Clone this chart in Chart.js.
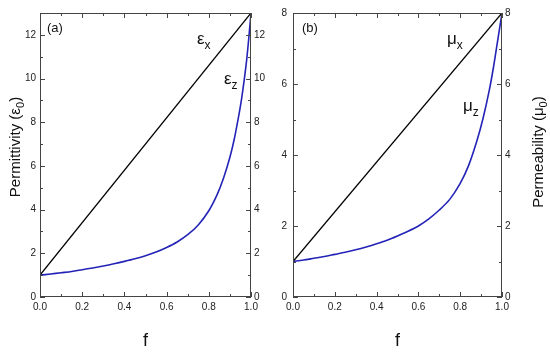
<!DOCTYPE html>
<html>
<head>
<meta charset="utf-8">
<script src="https://cdn.jsdelivr.net/npm/chart.js@4.4.1/dist/chart.umd.min.js"></script>
<style>
  html, body { margin: 0; padding: 0; background: #fff; }
  #wrap { position: relative; width: 550px; height: 354px; overflow: hidden; }
  #chartA { position: absolute; left: 0; top: 0; }
  #chartB { position: absolute; left: 265px; top: 0; }
</style>
</head>
<body>
<div id="wrap">
  <canvas id="chartA" width="275" height="354"></canvas>
  <canvas id="chartB" width="285" height="354"></canvas>
</div>
<script>
// panel (a): permittivity
const fLine = [0, 1];
const epsX = [1, 13];
const fEpsZ = [0, 0.05, 0.1, 0.15, 0.2, 0.25, 0.3, 0.35, 0.4, 0.45, 0.5, 0.55, 0.6, 0.65, 0.7,
  0.75, 0.8, 0.84, 0.87, 0.9, 0.92, 0.94, 0.955, 0.97, 0.98, 0.99, 1];
const epsZ = [1.0, 1.05, 1.11, 1.17, 1.25, 1.33, 1.42, 1.52, 1.63, 1.75, 1.89, 2.06, 2.27, 2.52, 2.85,
  3.3, 3.95, 4.7, 5.45, 6.4, 7.2, 8.2, 9.05, 10.1, 10.9, 11.9, 13.0];

// panel (b): permeability
const muX = [1, 8];
const fMuZ = [0, 0.05, 0.1, 0.15, 0.2, 0.25, 0.3, 0.35, 0.4, 0.45, 0.5, 0.55, 0.6, 0.65, 0.7,
  0.75, 0.8, 0.84, 0.88, 0.91, 0.94, 0.96, 0.98, 1];
const muZ = [1.0, 1.04, 1.09, 1.14, 1.2, 1.26, 1.33, 1.41, 1.5, 1.6, 1.72, 1.85, 2.0, 2.2, 2.45,
  2.75, 3.2, 3.7, 4.4, 5.05, 5.85, 6.5, 7.25, 8.0];

// ticks
const xTicks = [0, 0.2, 0.4, 0.6, 0.8, 1.0];
const xMinor = [0.1, 0.3, 0.5, 0.7, 0.9];
const yTicksA = [0, 2, 4, 6, 8, 10, 12];
const yMinorA = [1, 3, 5, 7, 9, 11];
const yTicksB = [0, 2, 4, 6, 8];
const yMinorB = [1, 3, 5, 7];

const FONT = "'Liberation Sans', Arial, sans-serif";
const AXIS_COLOR = "#444";
const LABEL_COLOR = "#222";
const BLUE = "#2323b8";

Chart.defaults.font.family = FONT;
Chart.defaults.color = LABEL_COLOR;

function toPoints(xs, ys) {
  return xs.map((x, i) => ({ x: x, y: ys[i] }));
}

// draws [[text, isSubscript], ...] left to right
function drawSub(ctx, parts, x, y, size) {
  let cx = x;
  parts.forEach(function (p) {
    const s = p[1] ? Math.round(size * 0.7) : size;
    ctx.font = s + "px " + FONT;
    ctx.fillText(p[0], cx, p[1] ? y + size * 0.28 : y);
    cx += ctx.measureText(p[0]).width;
  });
}

function partsWidth(ctx, parts, size) {
  let w = 0;
  parts.forEach(function (p) {
    const s = p[1] ? Math.round(size * 0.7) : size;
    ctx.font = s + "px " + FONT;
    w += ctx.measureText(p[0]).width;
  });
  return w;
}

const framePlugin = {
  id: "frame",
  afterDraw(chart, args, opts) {
    const ctx = chart.ctx;
    const a = chart.chartArea;
    const xs = chart.scales.x;
    const ys = chart.scales.y;
    ctx.save();
    ctx.strokeStyle = AXIS_COLOR;
    ctx.lineWidth = 1;
    ctx.strokeRect(a.left + 0.5, a.top + 0.5, a.right - a.left - 1, a.bottom - a.top - 1);

    ctx.beginPath();
    function xTick(v, len) {
      const px = Math.round(xs.getPixelForValue(v)) + 0.5;
      ctx.moveTo(px, a.bottom); ctx.lineTo(px, a.bottom - len);
      ctx.moveTo(px, a.top); ctx.lineTo(px, a.top + len);
    }
    function yTick(v, len) {
      const py = Math.round(ys.getPixelForValue(v)) + 0.5;
      ctx.moveTo(a.left, py); ctx.lineTo(a.left + len, py);
      ctx.moveTo(a.right, py); ctx.lineTo(a.right - len, py);
    }
    xTicks.forEach(v => xTick(v, 5));
    xMinor.forEach(v => xTick(v, 3));
    opts.yMajor.forEach(v => yTick(v, 5));
    opts.yMinor.forEach(v => yTick(v, 3));
    ctx.stroke();

    // panel letter
    ctx.fillStyle = "#111";
    ctx.textBaseline = "alphabetic";
    ctx.textAlign = "left";
    ctx.font = "13px " + FONT;
    ctx.fillText(opts.letter, a.left + opts.letterDx, a.top + 19);

    // curve labels
    opts.curveLabels.forEach(function (lb) {
      drawSub(ctx, lb.parts, lb.x, lb.y, 17);
    });

    // x title
    ctx.font = "18px " + FONT;
    ctx.textAlign = "center";
    ctx.fillText("f", (a.left + a.right) / 2, 346);

    // y title, rotated
    ctx.textAlign = "left";
    const w = partsWidth(ctx, opts.yTitle, 15);
    ctx.translate(opts.yTitleX, opts.yTitleY);
    ctx.rotate(-Math.PI / 2);
    drawSub(ctx, opts.yTitle, -w / 2, 5, 15);
    ctx.restore();
  }
};

function makePanel(canvasId, lineY, fz, zVals, yMax, yMajor, yMinor, fit, frameOpts) {
  const canvas = document.getElementById(canvasId);
  return new Chart(canvas, {
    type: "line",
    data: {
      datasets: [
        {
          data: toPoints(fLine, lineY),
          borderColor: "#000",
          borderWidth: 1.3,
          pointRadius: 0
        },
        {
          data: toPoints(fz, zVals),
          borderColor: BLUE,
          borderWidth: 1.6,
          pointRadius: 0,
          tension: 0.3
        }
      ]
    },
    options: {
      responsive: false,
      animation: false,
      layout: { padding: { top: 13, left: 0, right: 0, bottom: 0 } },
      plugins: {
        legend: { display: false },
        tooltip: { enabled: false },
        frame: frameOpts
      },
      scales: {
        x: {
          type: "linear",
          min: 0,
          max: 1,
          grid: { display: false, drawTicks: false },
          border: { display: false },
          afterBuildTicks: s => { s.ticks = xTicks.map(v => ({ value: v })); },
          afterFit: s => { s.height = fit.bottom; },
          ticks: {
            padding: 4,
            maxRotation: 0,
            font: { size: 10 },
            color: LABEL_COLOR,
            callback: v => v.toFixed(1)
          }
        },
        y: {
          position: "left",
          min: 0,
          max: yMax,
          grid: { display: false, drawTicks: false },
          border: { display: false },
          afterBuildTicks: s => { s.ticks = yMajor.map(v => ({ value: v })); },
          afterFit: s => { s.width = fit.left; },
          ticks: { padding: fit.leftPad, font: { size: 10 }, color: LABEL_COLOR }
        },
        y2: {
          position: "right",
          display: true,
          min: 0,
          max: yMax,
          grid: { display: false, drawTicks: false },
          border: { display: false },
          afterBuildTicks: s => { s.ticks = yMajor.map(v => ({ value: v })); },
          afterFit: s => { s.width = fit.right; },
          ticks: { padding: 3, font: { size: 10 }, color: LABEL_COLOR }
        }
      }
    },
    plugins: [framePlugin]
  });
}

makePanel("chartA", epsX, fEpsZ, epsZ, 13, yTicksA, yMinorA,
  { left: 40, right: 24, bottom: 57, leftPad: 4 },
  {
    yMajor: yTicksA,
    yMinor: yMinorA,
    letter: "(a)",
    letterDx: 7,
    yTitle: [["Permittivity (\u03b5", false], ["0", true], [")", false]],
    yTitleX: 15,
    yTitleY: 147,
    curveLabels: [
      { parts: [["\u03b5", false], ["x", true]], x: 197, y: 44 },
      { parts: [["\u03b5", false], ["z", true]], x: 224, y: 84 }
    ]
  });

makePanel("chartB", muX, fMuZ, muZ, 8, yTicksB, yMinorB,
  { left: 28, right: 48, bottom: 57, leftPad: 6 },
  {
    yMajor: yTicksB,
    yMinor: yMinorB,
    letter: "(b)",
    letterDx: 9,
    yTitle: [["Permeability (\u03bc", false], ["0", true], [")", false]],
    yTitleX: 273,
    yTitleY: 152,
    curveLabels: [
      { parts: [["\u03bc", false], ["x", true]], x: 447 - 265, y: 44 },
      { parts: [["\u03bc", false], ["z", true]], x: 463 - 265, y: 111 }
    ]
  });
</script>
</body>
</html>
